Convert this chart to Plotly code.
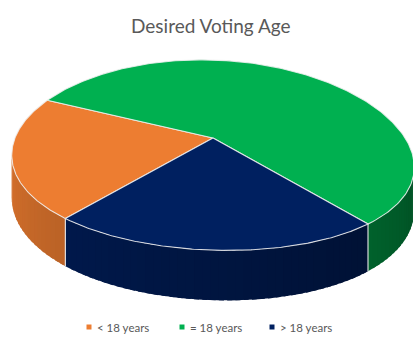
import numpy as np
import plotly.graph_objects as go

# ---- data ----
categories = ["< 18 years", "= 18 years", "> 18 years"]
values = [21, 56, 23]
top_colors = ["#ED7D31", "#00B050", "#002060"]
title_text = "Desired Voting Age"

# ---- layout / geometry constants ----
W, H = 413, 341
CX, CY = 213.0, 138.0          # projected pie centre (pixels)
A, B, P, T = 92.0, 198.0, 0.18, 41.0   # depth scale, width scale, perspective, thickness
SAG = 0.06
START = 230.0                   # angle of first slice edge (deg, ccw from +x); slices run clockwise
TEXT_COLOR = "#595959"
FONT = "Lato, 'Open Sans', sans-serif"


def hex2rgb(h):
    h = h.lstrip("#")
    return tuple(int(h[i:i + 2], 16) for i in (0, 2, 4))


def shade(hexc, k):
    r, g, b = hex2rgb(hexc)
    return "rgb(%d,%d,%d)" % (min(255, r * k), min(255, g * k), min(255, b * k))


def proj(th_deg, z=0.0):
    th = np.radians(th_deg)
    x = np.cos(th)
    u = np.sin(th)
    d = 1 + P * u
    sx0 = B * x / d
    sy0 = (-A * u + T * z) / d
    sy0 = sy0 + SAG * (sx0 / 2 + sx0 ** 2 / 400)
    return CX + sx0, CY + sy0


total = float(sum(values))
spans = [360.0 * v / total for v in values]
cum = np.concatenate([[0.0], np.cumsum(spans)])
bounds = [(START - cum[i], START - cum[i + 1]) for i in range(len(values))]  # (hi, lo)


def slice_of(angle):
    off = (START - angle) % 360.0
    for i in range(len(values)):
        if cum[i] <= off < cum[i + 1]:
            return i
    return len(values) - 1


fig = go.Figure()

# ---- visible side wall ----
vis_lo = 180.0 + np.degrees(np.arcsin(P))
vis_hi = 360.0 - np.degrees(np.arcsin(P))
brk = [vis_lo, vis_hi]
for hi, lo in bounds:
    for a in (hi, lo):
        a = a % 360.0
        if vis_lo < a < vis_hi:
            brk.append(a)
brk = sorted(set(brk))
side_edges = brk[1:-1]

for a0, a1 in zip(brk[:-1], brk[1:]):
    idx = slice_of((a0 + a1) / 2)
    n = max(1, int(np.ceil((a1 - a0) / 2.0)))
    edges = np.linspace(a0, a1, n + 1)
    for s0, s1 in zip(edges[:-1], edges[1:]):
        mid = (s0 + s1) / 2
        k = 0.9 - 0.45 * (mid - 190.0) / 160.0
        col = shade(top_colors[idx], k)
        s1e = min(s1 + 1.2, a1)   # overlap with next strip to hide seams
        th = np.linspace(s0, s1e, 4)
        xt, yt = proj(th, 0.0)
        xb, yb = proj(th[::-1], 1.0)
        fig.add_trace(go.Scatter(
            x=np.concatenate([xt, xb, xt[:1]]), y=np.concatenate([yt, yb, yt[:1]]),
            mode="lines", fill="toself", fillcolor=col,
            line=dict(color=col, width=0), hoverinfo="skip", showlegend=False))

# side boundary lines
for a in side_edges:
    xt, yt = proj(np.array([a]), 0.0)
    xb, yb = proj(np.array([a]), 1.0)
    fig.add_trace(go.Scatter(x=[xt[0], xb[0]], y=[yt[0], yb[0]], mode="lines",
                             line=dict(color="rgba(235,235,235,0.9)", width=1.2),
                             hoverinfo="skip", showlegend=False))

# ---- top faces ----
for i, (hi, lo) in enumerate(bounds):
    th = np.linspace(hi, lo, 200)
    xs, ys = proj(th, 0.0)
    fig.add_trace(go.Scatter(
        x=np.concatenate([[CX], xs, [CX]]), y=np.concatenate([[CY], ys, [CY]]),
        mode="lines", fill="toself", fillcolor=top_colors[i],
        line=dict(color="rgba(240,240,240,0.85)", width=1.1),
        name=categories[i], hoverinfo="name", showlegend=False))

# ---- legend (manual, Excel style) ----
leg_y = 327
leg_x = [89, 182, 272]
for i, cat in enumerate(categories):
    fig.add_trace(go.Scatter(x=[leg_x[i]], y=[leg_y], mode="markers",
                             marker=dict(symbol="square", size=5, color=top_colors[i]),
                             hoverinfo="skip", showlegend=False))
    fig.add_annotation(x=leg_x[i] + 6, y=leg_y, text=cat, showarrow=False,
                       xanchor="left", yanchor="middle",
                       font=dict(family=FONT, size=11.5, color=TEXT_COLOR))

fig.add_annotation(x=211, y=25, text=title_text, showarrow=False,
                   xanchor="center", yanchor="middle",
                   font=dict(family=FONT, size=19, color=TEXT_COLOR))

fig.update_layout(
    width=W, height=H, autosize=False,
    margin=dict(l=0, r=0, t=0, b=0),
    paper_bgcolor="white", plot_bgcolor="white",
    xaxis=dict(range=[0, W], visible=False, fixedrange=True),
    yaxis=dict(range=[H, 0], visible=False, fixedrange=True),
    showlegend=False,
)

fig.write_html("out.html", config={"displayModeBar": False},
               post_script="document.body.style.margin='0';document.body.style.overflow='hidden';")
